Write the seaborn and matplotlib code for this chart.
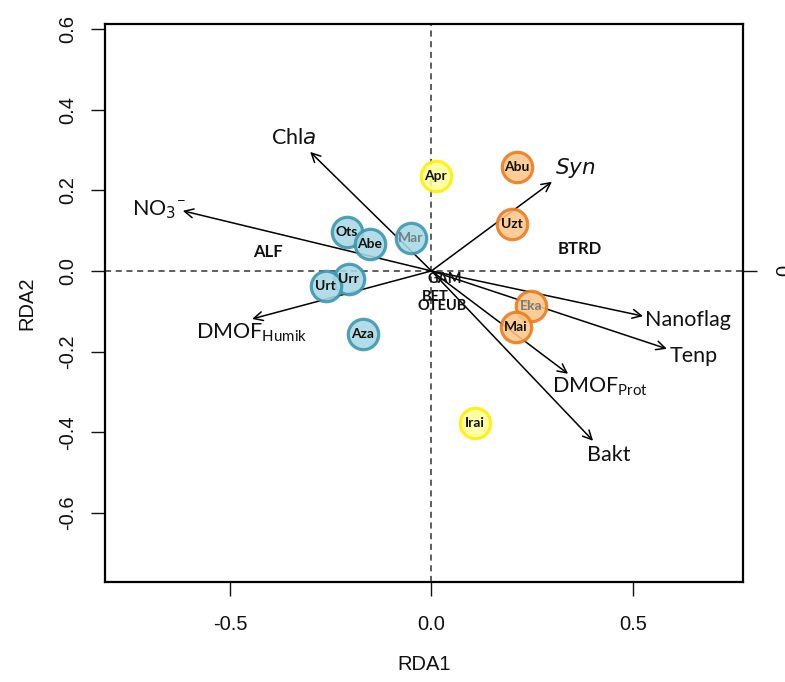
import matplotlib
matplotlib.use("Agg")
import matplotlib.pyplot as plt
import seaborn as sns
import pandas as pd

# Site scores (RDA1, RDA2) and sampling group
sites = ["Apr", "Abu", "Uzt", "Mar", "Ots", "Abe", "Urr", "Urt", "Aza", "Eka", "Mai", "Irai"]
site_x = [0.011, 0.212, 0.200, -0.051, -0.210, -0.153, -0.205, -0.262, -0.170, 0.247, 0.210, 0.108]
site_y = [0.235, 0.258, 0.116, 0.082, 0.097, 0.067, -0.020, -0.037, -0.156, -0.087, -0.139, -0.377]
site_group = ["spring", "summer", "summer", "winter", "winter", "winter", "winter", "winter",
              "winter", "summer", "summer", "spring"]
faded_sites = ["Mar", "Eka"]

# Explanatory variable vectors (biplot arrows)
variables = ["NO$_3$$^{\\mathregular{-}}$", "Chl$\\it{a}$", "$\\it{Syn}$", "Nanoflag", "Tenp",
             "DMOF$_{\\mathregular{Prot}}$", "Bakt", "DMOF$_{\\mathregular{Humik}}$"]
var_x = [-0.617, -0.301, 0.299, 0.525, 0.584, 0.339, 0.401, -0.445]
var_y = [0.149, 0.295, 0.221, -0.112, -0.193, -0.255, -0.421, -0.119]

# Response group centroids
groups = ["ALF", "BTRD", "GAM", "BET", "OTEUB"]
group_x = [-0.406, 0.368, 0.033, 0.009, 0.026]
group_y = [0.047, 0.055, -0.020, -0.065, -0.087]

x_ticks = [-0.5, 0.0, 0.5]
y_ticks = [-0.6, -0.4, -0.2, 0.0, 0.2, 0.4, 0.6]

sns.set_theme(style="white")
plt.rcParams["font.family"] = ["Liberation Sans", "DejaVu Sans"]

fig = plt.figure(figsize=(7.85, 6.82), dpi=100)
ax = fig.add_axes([105 / 785, 1 - 582 / 682, (743 - 105) / 785, (582 - 24) / 682])
ax.set_xlim(-0.810, 0.773)
ax.set_ylim(-0.771, 0.612)

# Reference lines through the origin
ax.axhline(0, color="#333333", lw=1.1, ls=(0, (4, 3)), zorder=1)
ax.axvline(0, color="#333333", lw=1.1, ls=(0, (4, 3)), zorder=1)

# Variable arrows and their labels
label_offsets = {
    0: (-0.125, 0.002, "left"), 1: (-0.04, 0.035, "center"), 2: (0.008, 0.035, "left"),
    3: (0.005, -0.01, "left"), 4: (0.008, -0.017, "left"), 5: (-0.04, -0.032, "left"),
    6: (-0.015, -0.036, "left"), 7: (-0.14, -0.035, "left"),
}
label_font = ["Lato", "DejaVu Sans"]
for i, (name, vx, vy) in enumerate(zip(variables, var_x, var_y)):
    ax.annotate("", xy=(vx, vy), xytext=(0, 0),
                arrowprops=dict(arrowstyle="->", color="black", lw=1.1,
                                mutation_scale=16, shrinkA=0, shrinkB=0),
                zorder=2)
    dx, dy, ha = label_offsets[i]
    ax.text(vx + dx, vy + dy, name, fontsize=15.5, ha=ha, va="center",
            family=label_font, color="#111111", zorder=5)

# Group centroid labels
for name, gx, gy in zip(groups, group_x, group_y):
    ax.text(gx, gy, name, fontsize=12 if name in ("ALF", "BTRD") else 10.5,
            fontweight="bold", ha="center", va="center", family=label_font,
            color="#111111", zorder=6)

# Site points
df = pd.DataFrame({"site": sites, "RDA1": site_x, "RDA2": site_y, "group": site_group})
fills = {"winter": "#a8d8e4", "summer": "#fdc68a", "spring": "#ffff99"}
edges = {"winter": "#3995ad", "summer": "#ea7a1e", "spring": "#ffee00"}
for grp in ["winter", "summer", "spring"]:
    sub = df[df["group"] == grp]
    sns.scatterplot(data=sub, x="RDA1", y="RDA2", ax=ax, s=480, color=fills[grp],
                    edgecolor=edges[grp], linewidth=2.3, alpha=0.88, zorder=3,
                    legend=False)

for name, sx, sy in zip(sites, site_x, site_y):
    faded = name in faded_sites
    ax.text(sx, sy, name, fontsize=10, fontweight="bold", ha="center", va="center",
            family=label_font, color="#5b6b70" if faded else "#111111",
            alpha=0.8 if faded else 1.0, zorder=4)

# Axes, ticks and labels
ax.set_xticks(x_ticks)
ax.set_xticklabels([f"{t:.1f}" for t in x_ticks])
ax.set_yticks(y_ticks)
ax.set_yticklabels([f"{t:.1f}" for t in y_ticks], rotation=90, va="center")
ax.tick_params(axis="x", length=10, width=1, pad=14, labelsize=14.5, direction="out",
               bottom=True, colors="#111111")
ax.tick_params(axis="y", length=10, width=1, pad=10, labelsize=14.5, direction="out",
               left=True, colors="#111111")
for sp in ax.spines.values():
    sp.set_color("black")
    sp.set_linewidth(1.6)

ax.set_xlabel("RDA1", fontsize=14.5, labelpad=15, color="#111111")
ax.set_ylabel("RDA2", fontsize=14.5, labelpad=16, color="#111111")

# Secondary axis on the right with its zero tick
ax2 = ax.twinx()
ax2.set_ylim(ax.get_ylim())
ax2.set_yticks([0.0])
ax2.set_yticklabels(["0"], rotation=90, va="center")
ax2.tick_params(axis="y", right=True, length=10, width=1, pad=13, labelsize=14.5,
                colors="#111111")
ax2.grid(False)
for sp in ax2.spines.values():
    sp.set_visible(False)

fig.savefig("out.png", dpi=100)
